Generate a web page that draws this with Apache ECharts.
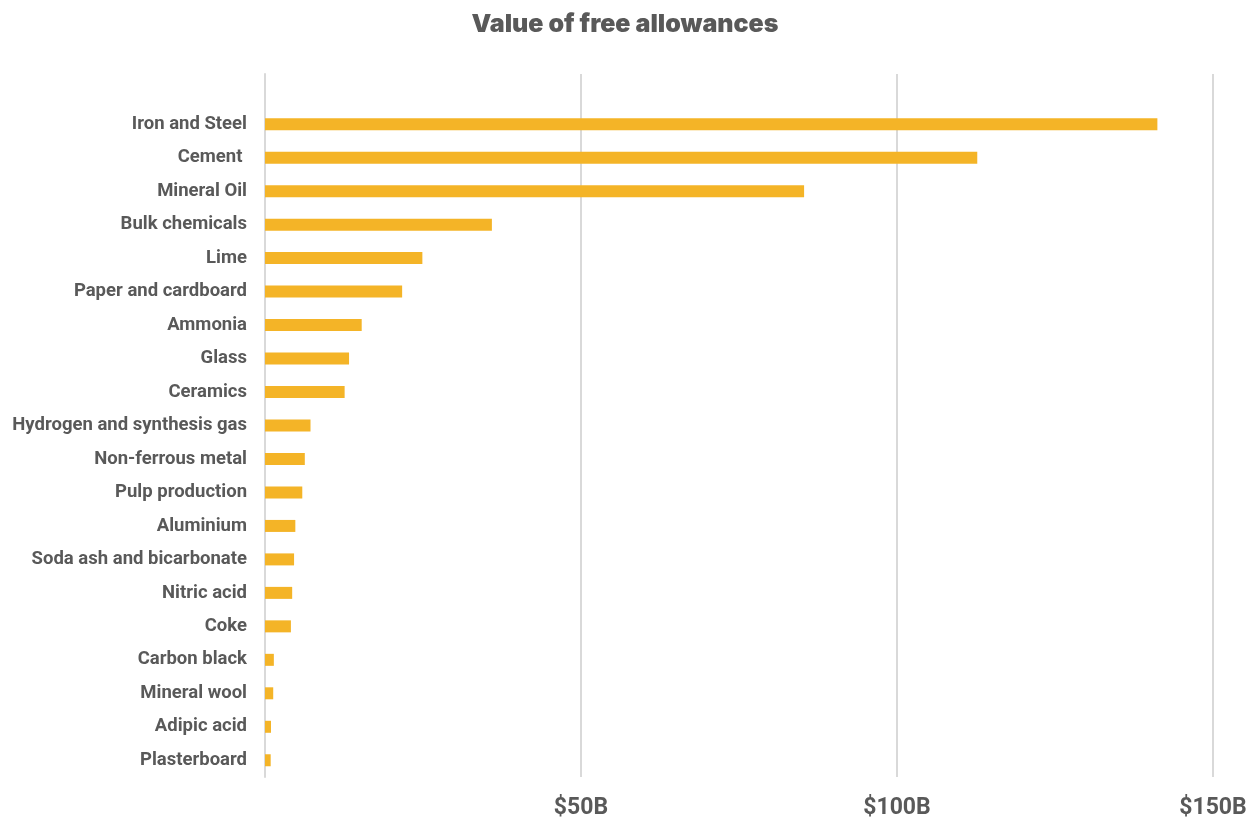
<!DOCTYPE html>
<html>
<head>
<meta charset="utf-8">
<title>Value of free allowances</title>
<script src="https://cdn.jsdelivr.net/npm/echarts@6/dist/echarts.min.js"></script>
<style>
  html, body { margin: 0; padding: 0; background: #fff; }
  #bar { width: 1250px; height: 820px; }
</style>
</head>
<body>
<div id="bar"></div>
<script>
// 数据
var sectors = ['Iron and Steel', 'Cement ', 'Mineral Oil', 'Bulk chemicals', 'Lime',
  'Paper and cardboard', 'Ammonia', 'Glass', 'Ceramics', 'Hydrogen and synthesis gas',
  'Non-ferrous metal', 'Pulp production', 'Aluminium', 'Soda ash and bicarbonate',
  'Nitric acid', 'Coke', 'Carbon black', 'Mineral wool', 'Adipic acid', 'Plasterboard'];
var allowances = [141.2, 112.7, 85.3, 35.9, 24.9, 21.7, 15.3, 13.3, 12.6, 7.2,
  6.3, 5.9, 4.8, 4.6, 4.3, 4.1, 1.4, 1.3, 0.95, 0.9];
var xTicks = [0, 50, 100, 150];

function getEchartsBar () {
  const myChart = echarts.init(document.getElementById('bar'));

  const option = {
    animation: false,
    title: {
      text: 'Value of free allowances',
      left: 'center',
      top: 7,
      textStyle: {
        color: '#595959',
        fontSize: 25,
        fontWeight: 900,
        fontFamily: 'Inter'
      }
    },
    grid: {
      top: 74,
      left: 265,
      right: 37,
      bottom: 39,
      containLabel: false
    },
    xAxis: {
      type: 'value',
      min: xTicks[0],
      max: xTicks[xTicks.length - 1],
      interval: 50,
      axisLine: { show: false },
      axisTick: { show: false },
      axisLabel: {
        margin: 20,
        color: '#595959',
        fontSize: 23,
        fontWeight: 'bold',
        fontFamily: 'Liberation Sans Narrow, Roboto',
        formatter: function (v) {
          return v === 0 ? '' : '$' + v + 'B';
        }
      },
      splitLine: {
        show: true,
        lineStyle: { color: '#D9D9D9', width: 2 }
      }
    },
    yAxis: {
      type: 'category',
      inverse: true,
      min: -1,
      data: sectors,
      axisTick: { show: false },
      axisLine: {
        show: true,
        lineStyle: { color: '#D9D9D9', width: 2 }
      },
      axisLabel: {
        interval: 0,
        margin: 18,
        padding: [0, 0, 5, 0],
        color: '#595959',
        fontSize: 18.5,
        fontWeight: 'bold',
        fontFamily: 'Roboto',
        formatter: function (v) {
          return v == null ? '' : v;
        }
      }
    },
    series: [{
      type: 'bar',
      barWidth: 12,
      itemStyle: { color: '#F4B427' },
      data: allowances
    }]
  };

  myChart.setOption(option);
  window.addEventListener('resize', function () {
    myChart.resize();
  });
}

getEchartsBar();
</script>
</body>
</html>
